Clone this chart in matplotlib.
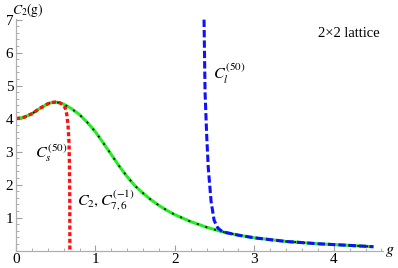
""" C2(g) for the 2x2 lattice: exact curve, small- and large-g approximants. """
import matplotlib
matplotlib.use('Agg')
import matplotlib.pyplot as plt
from matplotlib.ticker import MultipleLocator

plt.rcParams['font.family'] = ['Liberation Serif', 'DejaVu Serif']
plt.rcParams['mathtext.fontset'] = 'stix'

# exact C2 and C_{7,6}^{(-1)} (they coincide on the plot)
g_exact = [0, 0.1, 0.2, 0.3, 0.4, 0.45, 0.5, 0.55, 0.6, 0.7, 0.8, 0.9, 1.0,
           1.1, 1.2, 1.3, 1.4, 1.5, 1.6, 1.7, 1.8, 1.9, 2.0, 2.2, 2.4, 2.6,
           2.8, 3.0, 3.4, 3.8, 4.2, 4.5]
c_exact = [4.0, 4.04, 4.15, 4.31, 4.45, 4.49, 4.5, 4.48, 4.44, 4.3, 4.12,
           3.88, 3.6, 3.26, 2.91, 2.56, 2.24, 1.96, 1.74, 1.54, 1.37, 1.22,
           1.09, 0.88, 0.71, 0.57, 0.47, 0.39, 0.28, 0.21, 0.16, 0.12]

# small-g series C_s^(50)
g_small = [0, 0.1, 0.2, 0.3, 0.4, 0.45, 0.5, 0.55, 0.59, 0.62, 0.64, 0.655,
           0.667, 0.673, 0.677, 0.678]
c_small = [4.0, 4.04, 4.15, 4.31, 4.45, 4.49, 4.5, 4.48, 4.43, 4.32, 4.12,
           3.8, 3.3, 2.6, 1.5, 0.0]

# large-g series C_l^(50)
g_large = [2.367, 2.38, 2.40, 2.42, 2.456, 2.494, 2.54, 2.6, 2.8, 3.0, 3.4,
           3.8, 4.2, 4.5]
c_large = [7.0, 4.8, 3.52, 2.52, 1.49, 0.92, 0.69, 0.57, 0.47, 0.39, 0.28,
           0.21, 0.16, 0.12]

fig = plt.figure(figsize=(3.98, 2.68), dpi=100)
ax = fig.add_axes([16 / 398, 0.0646, 367 / 398, 0.8646])

ax.plot(g_exact, c_exact, color='#22ee22', lw=2.2, solid_capstyle='butt')
ax.plot(g_exact, c_exact, color='black', lw=1.3, ls=(0, (1, 4)))
ax.plot(g_small, c_small, color='#ff1010', lw=2.4, ls=(0, (1.2, 0.8)))
ax.plot(g_large, c_large, color='#1010ff', lw=2.2, ls=(0, (2.4, 1)))

ax.set_xlim(0, 4.62)
ax.set_ylim(0, 7.02)
for s in ('top', 'right'):
    ax.spines[s].set_visible(False)
for s in ('left', 'bottom'):
    ax.spines[s].set_color('#b0b0b0')
    ax.spines[s].set_linewidth(0.9)

ax.xaxis.set_major_locator(MultipleLocator(1))
ax.xaxis.set_minor_locator(MultipleLocator(0.2))
ax.yaxis.set_major_locator(MultipleLocator(1))
ax.yaxis.set_minor_locator(MultipleLocator(0.2))
ax.set_yticks([1, 2, 3, 4, 5, 6, 7])
ax.tick_params(which='both', direction='in', color='#a0a0a0', labelsize=11)
ax.tick_params(which='major', length=4, width=0.8, pad=2)
ax.tick_params(which='minor', length=2.2, width=0.6)

fig.text(0.03, 0.998, r'$C_2(\mathrm{g})$', fontsize=9.8, ha='left', va='top')
ax.text(4.71, 0.0, r'$g$', fontsize=11.5, ha='center', va='center', clip_on=False)
ax.text(3.8, 6.58, '2×2 lattice', fontsize=10.5, ha='left', va='center')
ax.text(2.48, 5.35, r'$C_l^{(50)}$', fontsize=11.5, ha='left', va='center')
ax.text(0.24, 2.95, r'$C_s^{(50)}$', fontsize=11.5, ha='left', va='center')
ax.text(0.77, 1.5, r'$C_2,C_{7,6}^{(-1)}$', fontsize=11.5, ha='left', va='center')

fig.savefig('out.png', dpi=100)
